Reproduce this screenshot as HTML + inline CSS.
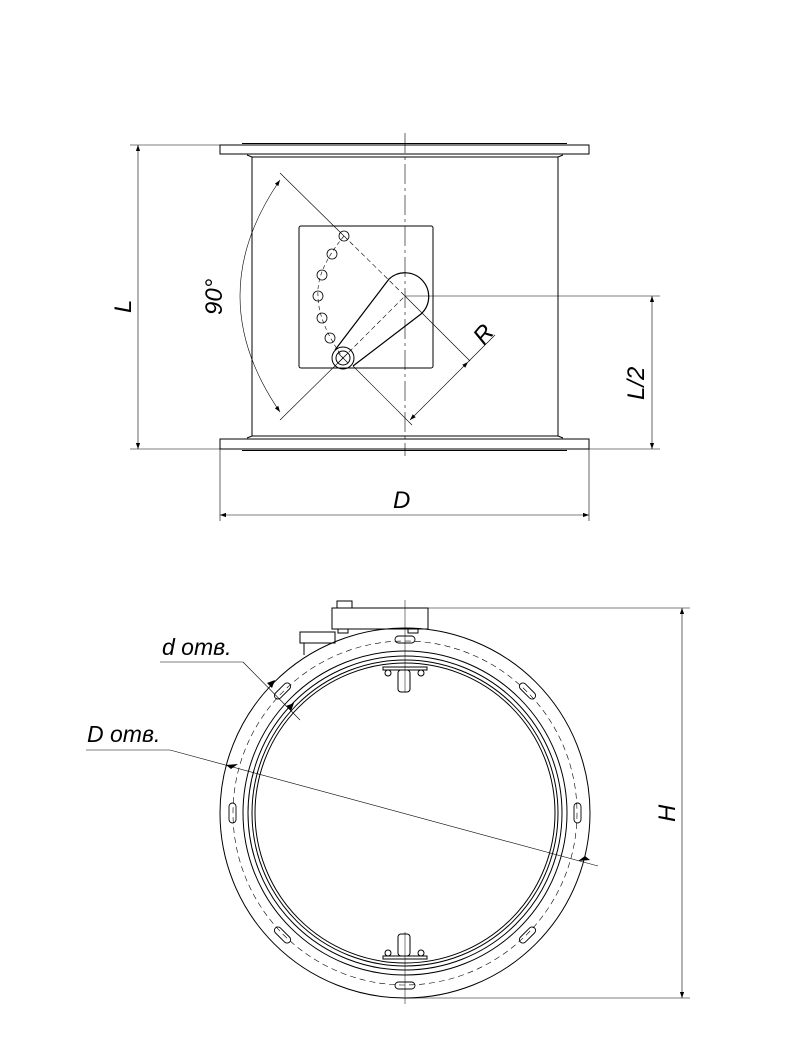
<!DOCTYPE html>
<html><head><meta charset="utf-8"><style>
html,body{margin:0;padding:0;background:#fff;}
svg{display:block;}
text{font-family:"Liberation Sans",sans-serif;font-style:italic;fill:#000;}
</style></head><body>
<svg width="800" height="1056" viewBox="0 0 800 1056" xmlns="http://www.w3.org/2000/svg">
<defs>
<marker id="a" viewBox="0 0 10 10" refX="10" refY="5" markerWidth="10" markerHeight="6" orient="auto-start-reverse" markerUnits="userSpaceOnUse"><path d="M0,1.5L10,5L0,8.5z" fill="#000"/></marker>
</defs>
<g fill="none" stroke="#000" stroke-width="1">
<!-- TOP VIEW -->
<rect x="220" y="145" width="369" height="9"/>
<line x1="242" y1="143.5" x2="567" y2="143.5"/>
<rect x="220" y="439" width="369" height="10"/>
<line x1="242" y1="450.5" x2="567" y2="450.5"/>
<path d="M252,157 L252,436 M558,157 L558,436 M247,155 L252,157 L558,157 L563,155 M247,438 L252,436 L558,436 L563,438"/>
<rect x="299" y="226" width="134" height="142" rx="2"/>
<path d="M335,350 L389,279 A22,22 0 1 1 421,314 L353,366" stroke-width="1.2"/>
<circle cx="343" cy="358" r="11"/>
<circle cx="343" cy="358" r="7"/>
<path d="M338,353l10,10M348,353l-10,10" stroke-width="0.7"/>
<g stroke-width="0.8">
<circle cx="344" cy="236" r="5"/><circle cx="332" cy="254" r="5"/><circle cx="322" cy="275" r="5"/><circle cx="318" cy="296" r="5"/><circle cx="322" cy="318" r="5"/><circle cx="330" cy="338" r="5"/>
</g>
<path d="M344,236 Q316,270 318,296 Q318,322 343,358" stroke-dasharray="4,3" stroke-width="0.6"/>
<path d="M344,236 L405,296 L343,358" stroke-dasharray="5,3" stroke-width="0.6"/>
<g stroke-width="0.6">
<line x1="280" y1="173" x2="344" y2="236"/>
<line x1="280" y1="420" x2="343" y2="358"/>
<path d="M280,180 Q200,296 280,412" marker-start="url(#a)" marker-end="url(#a)"/>
<line x1="405" y1="296" x2="660" y2="296"/>
<line x1="353" y1="366" x2="412" y2="425"/>
<line x1="405" y1="296" x2="470" y2="361"/>
<line x1="410" y1="420" x2="468" y2="362" marker-start="url(#a)" marker-end="url(#a)"/>
<line x1="468" y1="362" x2="495" y2="335"/>
<line x1="405" y1="133" x2="405" y2="456" stroke-dasharray="20,4,3,4"/>
<line x1="130" y1="145" x2="220" y2="145"/>
<line x1="130" y1="449" x2="240" y2="449"/>
<line x1="138" y1="145" x2="138" y2="449" marker-start="url(#a)" marker-end="url(#a)"/>
<line x1="589" y1="449" x2="660" y2="449"/>
<line x1="652" y1="296" x2="652" y2="449" marker-start="url(#a)" marker-end="url(#a)"/>
<line x1="220" y1="449" x2="220" y2="521"/>
<line x1="589" y1="449" x2="589" y2="521"/>
<line x1="220" y1="515" x2="589" y2="515" marker-start="url(#a)" marker-end="url(#a)"/>
</g>
<!-- BOTTOM VIEW -->
<rect x="332" y="608" width="96" height="21"/>
<rect x="337" y="601" width="15" height="7"/>
<rect x="338" y="629" width="10" height="4"/>
<rect x="408" y="629" width="10" height="4"/>
<rect x="300" y="632" width="35" height="11"/>
<path d="M304,643 L304,655"/>
<line x1="405" y1="600" x2="405" y2="692" stroke-width="0.5"/>
<line x1="405" y1="932" x2="405" y2="1004" stroke-width="0.5"/>
<circle cx="405" cy="813" r="185"/>
<circle cx="405" cy="813" r="172" stroke-dasharray="6,4" stroke-width="0.6"/>
<circle cx="405" cy="813" r="162"/>
<circle cx="405" cy="813" r="157"/>
<circle cx="405" cy="813" r="153"/>
<circle cx="405" cy="813" r="150"/>
<g stroke-width="0.9">
<rect x="395" y="636" width="20" height="7" rx="3.5"/>
<rect x="395" y="982" width="20" height="7" rx="3.5"/>
<rect x="229" y="803" width="7" height="20" rx="3.5"/>
<rect x="574" y="803" width="7" height="20" rx="3.5"/>
<rect x="524" y="681" width="7" height="20" rx="3.5" transform="rotate(-45 527.5 691)"/>
<rect x="279" y="681" width="7" height="20" rx="3.5" transform="rotate(45 282.5 691)"/>
<rect x="279" y="925" width="7" height="20" rx="3.5" transform="rotate(-45 282.5 935)"/>
<rect x="524" y="925" width="7" height="20" rx="3.5" transform="rotate(45 527.5 935)"/>
</g>
<path d="M383,667 L427,667 L427,670 L383,670z"/>
<rect x="398" y="670" width="12" height="22" rx="3"/>
<circle cx="388" cy="673" r="3"/><circle cx="421" cy="673" r="3"/>
<path d="M383,959 L427,959 L427,956 L383,956z"/>
<rect x="398" y="934" width="12" height="22" rx="3"/>
<circle cx="388" cy="953" r="3"/><circle cx="421" cy="953" r="3"/>
<g stroke-width="0.6">
<line x1="428" y1="608" x2="690" y2="608"/>
<line x1="405" y1="998" x2="690" y2="998"/>
<line x1="682" y1="608" x2="682" y2="998" marker-start="url(#a)" marker-end="url(#a)"/>
<line x1="160" y1="662" x2="243" y2="662"/>
<line x1="243" y1="662" x2="300" y2="720"/>
<line x1="86" y1="750" x2="170" y2="750"/>
<line x1="170" y1="750" x2="598" y2="866"/>
</g>
<path d="M267,683l8,-3l-3,8z M286,706l8,-3l-3,8z" fill="#000" stroke="none"/>
<path d="M226,765l12,-1l-7,5z M590,860l-12,1l7,-5z" fill="#000" stroke="none"/>
</g>
<g font-size="24">
<text x="0" y="0" transform="translate(131,313) rotate(-90)">L</text>
<text x="0" y="0" transform="translate(222,315) rotate(-90)">90°</text>
<text x="0" y="0" transform="translate(484,346) rotate(-50)">R</text>
<text x="0" y="0" transform="translate(644,400) rotate(-90)">L/2</text>
<text x="393" y="508">D</text>
<text x="0" y="0" transform="translate(675,822) rotate(-90)">H</text>
<text x="162" y="655" font-size="23">d отв.</text>
<text x="87" y="742" font-size="23">D отв.</text>
</g>
</svg>
</body></html>
